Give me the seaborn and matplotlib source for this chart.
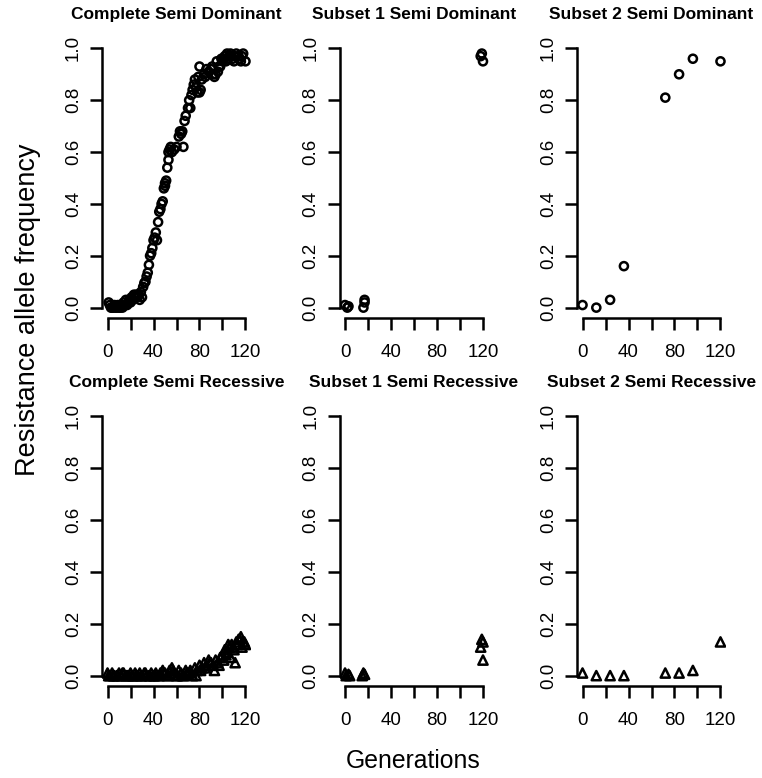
import numpy as np
import pandas as pd
import matplotlib
matplotlib.use("Agg")
import matplotlib.pyplot as plt
import seaborn as sns

# ---------------- data ----------------
complete_dom_gen = [1, 2, 3, 4, 5, 6, 7, 8, 9, 10, 11, 12, 13, 14, 15, 16, 17, 18, 19, 20,
                    21, 22, 23, 24, 25, 26, 27, 28, 29, 30,
                    31, 32, 33, 34, 35, 36, 37, 38, 39, 40, 41, 42, 43, 44, 45, 46, 47, 48,
                    49, 50, 51, 50, 52, 53, 53, 54, 55, 56, 58, 60, 62, 63, 64, 65, 66,
                    67, 68, 70, 72, 71, 73, 74, 75, 76, 77, 78, 80, 79, 81, 82, 84, 85, 86,
                    88, 90, 91, 92, 93, 94, 96, 95, 98, 99, 100, 101, 102, 103, 104, 105,
                    106, 107, 108, 109, 110, 111, 112, 114, 115, 116, 117, 118, 120, 80, 97]
complete_dom_freq = [0.02, 0.01, 0.0, 0.0, 0.0, 0.01, 0.0, 0.0, 0.01, 0.0, 0.0, 0.01, 0.0, 0.02,
                     0.01, 0.03, 0.01, 0.02, 0.03, 0.02, 0.04, 0.03, 0.05, 0.04, 0.05, 0.04, 0.05,
                     0.03, 0.06, 0.04,
                     0.08, 0.095, 0.10, 0.12, 0.135, 0.165, 0.20, 0.21, 0.23, 0.26, 0.27, 0.29,
                     0.26, 0.33, 0.37, 0.38, 0.40, 0.41,
                     0.46, 0.48, 0.49, 0.47, 0.54, 0.57, 0.60, 0.61, 0.62, 0.60, 0.61, 0.62,
                     0.66, 0.68, 0.67, 0.68, 0.62,
                     0.72, 0.74, 0.77, 0.77, 0.80, 0.82, 0.84, 0.86, 0.88, 0.85, 0.83, 0.83,
                     0.89, 0.84, 0.88, 0.90, 0.89, 0.92,
                     0.91, 0.92, 0.93, 0.90, 0.89, 0.90, 0.91, 0.95, 0.93, 0.96, 0.95, 0.96,
                     0.97, 0.95, 0.98, 0.96,
                     0.97, 0.98, 0.97, 0.96, 0.95, 0.97, 0.98, 0.97, 0.96, 0.95, 0.97, 0.98,
                     0.95, 0.93, 0.93]

subset1_dom_gen = [0, 2, 3, 16, 17, 17, 118, 119, 120]
subset1_dom_freq = [0.01, 0.0, 0.005, 0.0, 0.02, 0.03, 0.97, 0.98, 0.95]

subset2_dom_gen = [0, 12, 24, 36, 72, 84, 96, 120]
subset2_dom_freq = [0.01, 0.0, 0.03, 0.16, 0.81, 0.90, 0.96, 0.95]

complete_rec_gen = [0, 2, 4, 6, 8, 10, 12, 14, 16, 18, 20, 22, 24, 26, 28, 30, 32, 34, 36, 38,
                    40, 42, 44, 46, 48, 50, 52, 54, 56, 58, 60, 62, 64, 66, 68, 70,
                    1, 5, 9, 13, 17, 21, 25, 29, 33, 37, 41, 45, 49, 53, 57, 61, 65, 69,
                    72, 74, 76, 78, 80, 82, 84, 86, 88, 90, 92, 94, 96, 98, 100,
                    73, 77, 81, 85, 89, 93, 97, 101,
                    102, 104, 106, 108, 110, 112, 114, 116, 118, 120,
                    103, 105, 107, 109, 111, 113, 115, 117, 119]
complete_rec_freq = [0.01, 0.0, 0.01, 0.0, 0.0, 0.01, 0.0, 0.01, 0.0, 0.0, 0.01, 0.0, 0.01, 0.0,
                     0.01, 0.0, 0.01, 0.0, 0.0, 0.01, 0.0, 0.01, 0.0, 0.01, 0.02, 0.01, 0.0,
                     0.02, 0.03, 0.01, 0.0, 0.02, 0.01, 0.0, 0.02, 0.01,
                     0.0, 0.0, 0.0, 0.01, 0.0, 0.0, 0.0, 0.0, 0.01, 0.0, 0.0, 0.0, 0.01, 0.0,
                     0.02, 0.0, 0.0, 0.01,
                     0.02, 0.0, 0.03, 0.02, 0.04, 0.03, 0.05, 0.04, 0.06, 0.05, 0.04, 0.06,
                     0.05, 0.07, 0.08,
                     0.01, 0.0, 0.02, 0.03, 0.05, 0.02, 0.04, 0.06,
                     0.10, 0.09, 0.11, 0.12, 0.10, 0.13, 0.14, 0.15, 0.13, 0.12,
                     0.08, 0.12, 0.07, 0.11, 0.05, 0.12, 0.14, 0.11, 0.13]

subset1_rec_gen = [0, 1, 3, 4, 15, 16, 17, 118, 119, 120, 120]
subset1_rec_freq = [0.01, 0.0, 0.005, 0.0, 0.0, 0.01, 0.005, 0.11, 0.14, 0.13, 0.06]

subset2_rec_gen = [0, 12, 24, 36, 72, 84, 96, 120]
subset2_rec_freq = [0.01, 0.0, 0.0, 0.0, 0.01, 0.01, 0.02, 0.13]

titles = ["Complete Semi Dominant", "Subset 1 Semi Dominant", "Subset 2 Semi Dominant",
          "Complete Semi Recessive", "Subset 1 Semi Recessive", "Subset 2 Semi Recessive"]
x_ticks = [0, 20, 40, 60, 80, 100, 120]
x_ticklabels = ["0", "", "40", "", "80", "", "120"]
y_ticks = [0.0, 0.2, 0.4, 0.6, 0.8, 1.0]
y_ticklabels = ["0.0", "0.2", "0.4", "0.6", "0.8", "1.0"]

panels = [
    (complete_dom_gen, complete_dom_freq, "o"),
    (subset1_dom_gen, subset1_dom_freq, "o"),
    (subset2_dom_gen, subset2_dom_freq, "o"),
    (complete_rec_gen, complete_rec_freq, "^"),
    (subset1_rec_gen, subset1_rec_freq, "^"),
    (subset2_rec_gen, subset2_rec_freq, "^"),
]

# ---------------- style ----------------
sns.set_theme(style="white")
plt.rcParams["font.family"] = ["Liberation Sans", "DejaVu Sans"]
plt.rcParams["text.color"] = "black"

W, H = 762, 778
fig = plt.figure(figsize=(W / 100, H / 100), dpi=100)

lefts = [102, 339.5, 577]
tops = [38, 406]
pw, ph = 149, 280

for i, (g, f, mk) in enumerate(panels):
    r, c = divmod(i, 3)
    ax = fig.add_axes([lefts[c] / W, 1 - (tops[r] + ph) / H, pw / W, ph / H])
    df = pd.DataFrame({"Generation": g, "Frequency": f})
    sns.scatterplot(data=df, x="Generation", y="Frequency", ax=ax, marker=mk,
                    s=34 if mk == "o" else 44, facecolor="none", edgecolor="black",
                    linewidth=1.8, legend=False)
    ax.set_xlim(-4.8, 124.8)
    ax.set_ylim(-0.04, 1.04)
    for side in ["top", "right"]:
        ax.spines[side].set_visible(False)
    for side in ["left", "bottom"]:
        ax.spines[side].set_color("black")
        ax.spines[side].set_linewidth(1.8)
    ax.spines["left"].set_bounds(0, 1)
    ax.spines["bottom"].set_bounds(0, 120)
    ax.set_xticks(x_ticks)
    ax.set_xticklabels(x_ticklabels)
    ax.set_yticks(y_ticks)
    ax.set_yticklabels(y_ticklabels, rotation=90, va="center")
    ax.tick_params(axis="both", direction="out", length=8.5, width=1.8, color="black",
                   labelsize=13.5, labelcolor="black", left=True, bottom=True)
    ax.tick_params(axis="x", pad=10)
    ax.tick_params(axis="y", pad=6)
    ax.set_xlabel("")
    ax.set_ylabel("")
    ax.set_title(titles[i], fontsize=12.5, fontweight="bold", pad=14, color="black")
    ax.grid(False)
    ax.set_facecolor("white")

fig.text(28 / W, 1 - 310 / H, "Resistance allele frequency", rotation=90,
         ha="center", va="center", fontsize=19.5, color="black")
fig.text(413 / W, 1 - 761 / H, "Generations", ha="center", va="center", fontsize=17.8,
         color="black")

fig.savefig("out.png", dpi=100, facecolor="white")
